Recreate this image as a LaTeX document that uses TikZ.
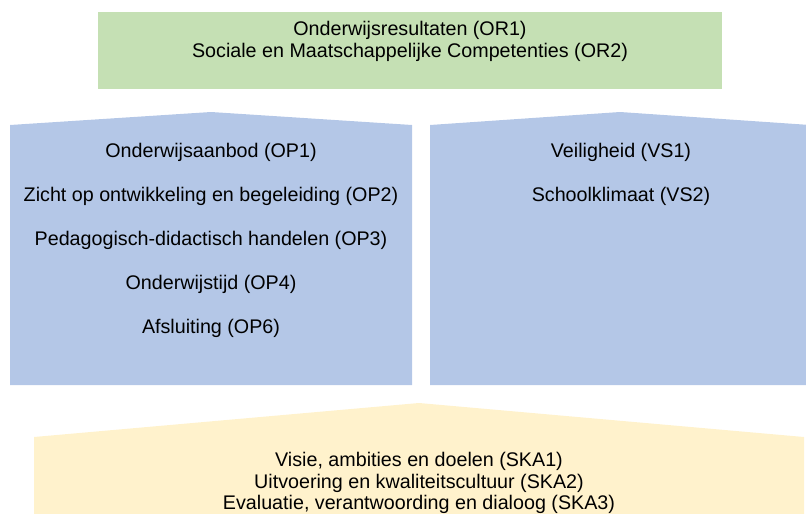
\documentclass[tikz,border=0pt]{standalone}
\usepackage{fontspec}
\setmainfont{Liberation Sans}
\usepackage{tikz}
\usetikzlibrary{positioning}

\definecolor{resgreen}{HTML}{C5E0B4}
\definecolor{procblue}{HTML}{B4C7E7}
\definecolor{kwalyellow}{HTML}{FFF2CC}

\tikzset{
	line/.style={inner sep=0pt,text height=14.5pt,text depth=4.5pt,font=\fontsize{19.7}{22}\selectfont},
}

\begin{document}
\begin{tikzpicture}[x=1pt,y=1pt]
		\useasboundingbox (0,0) rectangle (806,-514);
		\clip (0,0) rectangle (806,-514);
		% vlakken
		\fill[resgreen] (98,-12) rectangle (722,-89);
		\fill[procblue] (10,-125) -- (211,-112) -- (412,-125) -- (412,-385) -- (10,-385) -- cycle;
		\fill[procblue] (430,-125) -- (620,-112) -- (810,-125) -- (810,-385) -- (430,-385) -- cycle;
		\fill[kwalyellow] (34,-437) -- (419,-403) -- (804,-437) -- (804,-520) -- (34,-520) -- cycle;
		% resultaten
		\node(or1) at (410,-30) [line] {Onderwijsresultaten (OR1)};
		\node(or2) [below=3 of or1,line] {Sociale en Maatschappelijke Competenties (OR2)};
		% onderwijsproces
		\node(op1) at (211,-152) [line] {Onderwijsaanbod (OP1)};
		\node(op2) [below=24.7 of op1,line] {Zicht op ontwikkeling en begeleiding (OP2)};
		\node(op3) [below=24.7 of op2,line] {Pedagogisch-didactisch handelen (OP3)};
		\node(op4) [below=24.7 of op3,line] {Onderwijstijd (OP4)};
		\node(op6) [below=24.7 of op4,line] {Afsluiting (OP6)};
		% schoolklimaat
		\node(vs1) at (621,-152) [line] {Veiligheid (VS1)};
		\node(vs2) [below=24.7 of vs1,line] {Schoolklimaat (VS2)};
		% kwaliteitszorg
		\node(ska1) at (419,-461) [line] {Visie, ambities en doelen (SKA1)};
		\node(ska2) [below=3 of ska1,line] {Uitvoering en kwaliteitscultuur (SKA2)};
		\node(ska3) [below=2 of ska2,line] {Evaluatie, verantwoording en dialoog (SKA3)};
	\end{tikzpicture}
\end{document}
